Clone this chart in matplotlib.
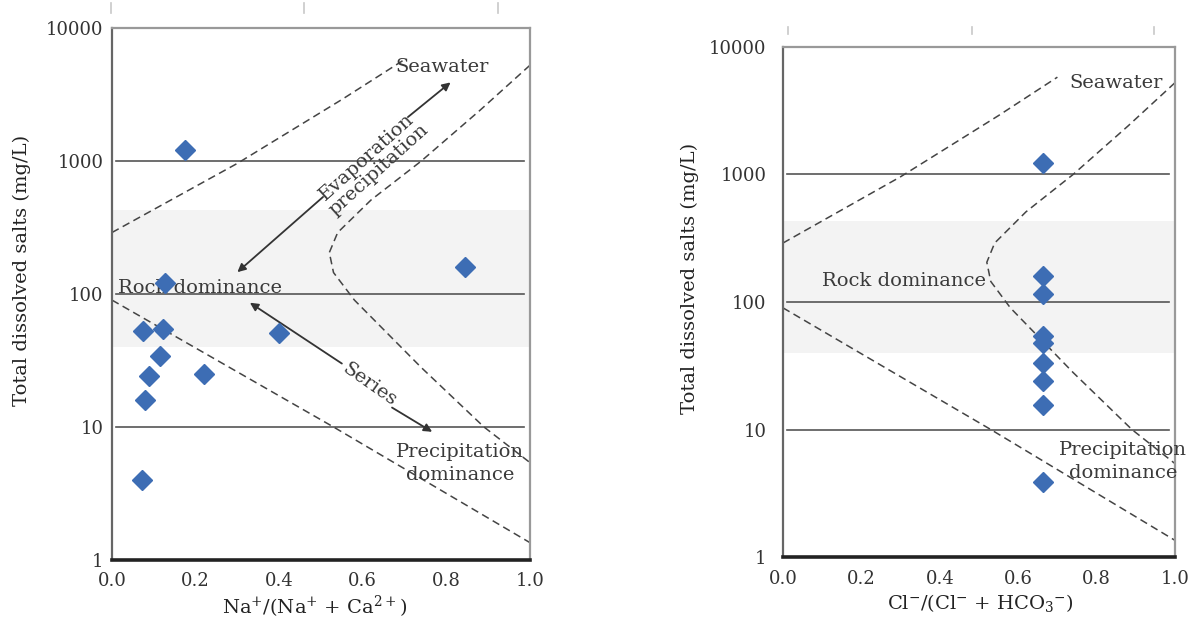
import matplotlib.pyplot as plt
from matplotlib.lines import Line2D
from matplotlib.ticker import NullLocator

plt.rcParams['font.family'] = ['DejaVu Serif']
plt.rcParams['mathtext.fontset'] = 'dejavuserif'

# samples: TDS (mg/L) against the two Gibbs ratios
na_tds = [1200, 120, 160, 53, 55, 51, 34, 24, 25, 16, 4.0]
na_ratio = [0.175, 0.127, 0.845, 0.074, 0.122, 0.40, 0.115, 0.089, 0.22, 0.079, 0.072]
cl_tds = [1220, 160, 115, 54, 48, 33, 24, 15.5, 3.9]
cl_ratio = [0.663, 0.663, 0.663, 0.663, 0.663, 0.663, 0.663, 0.663, 0.663]

# Gibbs boundary curves
upper_x = [0.0, 0.30, 0.55, 0.70]
upper_y = [290, 960, 2900, 5800]
inner_x = [1.0, 0.88, 0.74, 0.62, 0.54, 0.52, 0.53, 0.58, 0.74, 0.89, 1.0]
inner_y = [5250, 2400, 1000, 510, 290, 205, 145, 90, 28, 10, 5.4]
lower_x = [0.0, 0.53, 1.0]
lower_y = [90, 10, 1.35]
rock_band = (40, 430)

y_ticks = [1, 10, 100, 1000, 10000]
x_ticks = [0.0, 0.2, 0.4, 0.6, 0.8, 1.0]

DARK = '#3a3a3a'
BLUE = '#3d6db4'
FS = 14


def draw_panel(ax, xs, ys, ypad):
    ax.set_yscale('log')
    ax.set_xlim(0, 1)
    ax.set_ylim(1, 10000)
    ax.set_yticks(y_ticks)
    ax.set_yticklabels([str(t) for t in y_ticks])
    ax.yaxis.set_minor_locator(NullLocator())
    ax.set_xticks(x_ticks)
    ax.set_xticklabels([f'{t:.1f}' for t in x_ticks])
    ax.tick_params(length=0, labelsize=13, colors='#333')
    ax.tick_params(axis='y', pad=ypad)
    ax.tick_params(axis='x', pad=9)

    ax.spines['left'].set(color='#666', lw=1.6)
    ax.spines['bottom'].set(color='#222', lw=2.6)
    ax.spines['top'].set(color='#999', lw=1.6)
    ax.spines['right'].set(color='#999', lw=1.6)

    ax.axhspan(*rock_band, color='#f3f3f3', lw=0, zorder=0)
    for v in [10, 100, 1000]:
        ax.axhline(v, xmin=0.01, xmax=0.985, color='#555', lw=1.2, zorder=1)

    dash = dict(color='#444', lw=1.1, ls=(0, (5, 3)), zorder=2)
    ax.plot(upper_x, upper_y, **dash)
    ax.plot(inner_x, inner_y, **dash)
    ax.plot(lower_x, lower_y, **dash)

    ax.plot(xs, ys, 'D', color=BLUE, ms=10, mec=BLUE, zorder=5, clip_on=False)


fig = plt.figure(figsize=(11.99, 6.2), dpi=100)
ax1 = fig.add_axes([0.0934, 0.0968, 0.3486, 0.858])
ax2 = fig.add_axes([0.653, 0.1016, 0.327, 0.8226])

draw_panel(ax1, na_ratio, na_tds, 6)
draw_panel(ax2, cl_ratio, cl_tds, 12)

# left panel labels and arrows
ax1.text(0.79, 5100, 'Seawater', fontsize=FS, ha='center', va='center', color=DARK)
ax1.text(0.015, 111, 'Rock dominance', fontsize=FS, ha='left', va='center', color=DARK)
ax1.text(0.833, 5.3, 'Precipitation\ndominance', fontsize=FS, ha='center', va='center',
         color=DARK, linespacing=1.35)
ax1.text(0.624, 960, 'Evaporation\nprecipitation', fontsize=FS, ha='center', va='center',
         rotation=42, rotation_mode='anchor', color=DARK, linespacing=1.0)
ax1.text(0.615, 20.7, 'Series', fontsize=FS, ha='center', va='center',
         rotation=-35, rotation_mode='anchor', color=DARK)

arr = dict(arrowstyle='-|>', color='#333', lw=1.3, mutation_scale=12, shrinkA=0, shrinkB=0)
ax1.annotate('', xy=(0.30, 146), xytext=(0.505, 537), arrowprops=arr)
ax1.annotate('', xy=(0.81, 3900), xytext=(0.708, 2140), arrowprops=arr)
ax1.annotate('', xy=(0.33, 86), xytext=(0.55, 30), arrowprops=arr)
ax1.annotate('', xy=(0.766, 9.2), xytext=(0.67, 14), arrowprops=arr)

# right panel labels
ax2.text(0.85, 5200, 'Seawater', fontsize=FS, ha='center', va='center', color=DARK)
ax2.text(0.31, 146, 'Rock dominance', fontsize=FS, ha='center', va='center', color=DARK)
ax2.text(0.868, 5.6, 'Precipitation\ndominance', fontsize=FS, ha='center', va='center',
         color=DARK, linespacing=1.35)

# axis titles
fig.text(22 / 1199, 1 - 270 / 620, 'Total dissolved salts (mg/L)', rotation=90,
         ha='center', va='center', fontsize=14, color='#222')
fig.text(690 / 1199, 1 - 278 / 620, 'Total dissolved salts (mg/L)', rotation=90,
         ha='center', va='center', fontsize=14, color='#222')
fig.text(315 / 1199, 1 - 607 / 620, r'Na$^{+}$/(Na$^{+}$ + Ca$^{2+}$)',
         ha='center', va='center', fontsize=14, color='#222')
fig.text(980 / 1199, 1 - 603 / 620, r'Cl$^{-}$/(Cl$^{-}$ + HCO$_{3}$$^{-}$)',
         ha='center', va='center', fontsize=14, color='#222')

# faint tick stubs along the top edge of the scan
for px, y0, y1 in [(111, 3, 13), (304, 3, 13), (498, 3, 13),
                   (788, 27, 34), (972, 27, 34), (1154, 27, 34)]:
    fig.add_artist(Line2D([px / 1199, px / 1199], [1 - y0 / 620, 1 - y1 / 620],
                          color='#c8c8c8', lw=1.2))

fig.savefig('out.png', dpi=100)
